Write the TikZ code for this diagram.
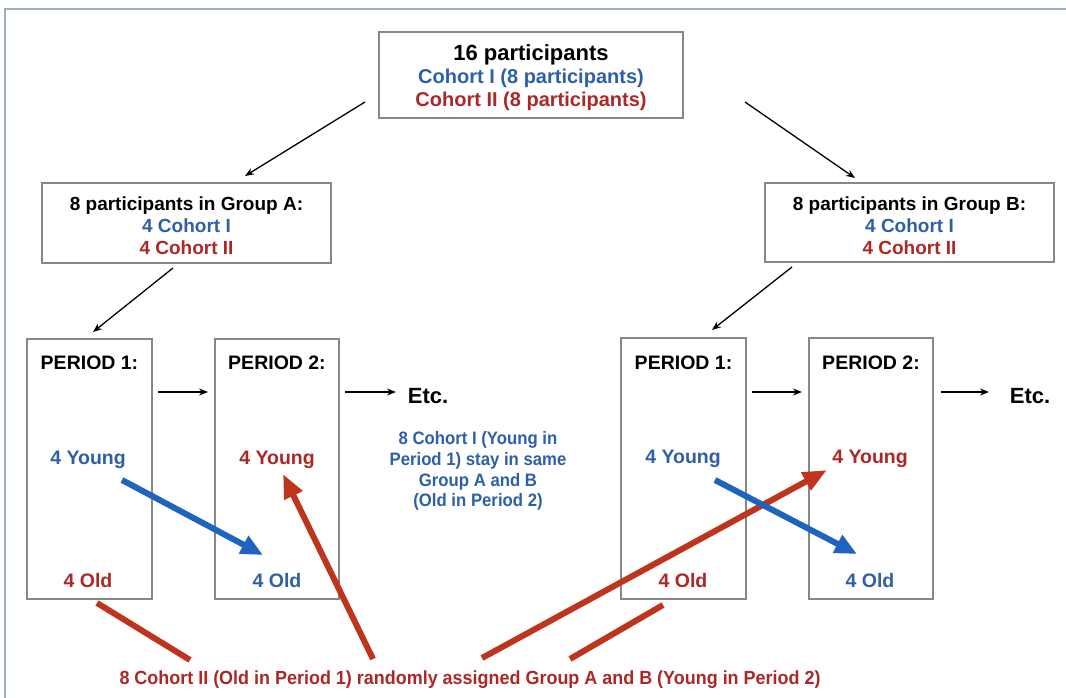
\documentclass[tikz,border=0pt]{standalone}
\usepackage{fontspec}
\usepackage{graphicx}
\setmainfont{Liberation Sans}
\usetikzlibrary{arrows.meta}

\definecolor{txtblue}{RGB}{46,96,168}
\definecolor{txtred}{RGB}{172,40,38}
\definecolor{arrblue}{RGB}{30,100,190}
\definecolor{arrred}{RGB}{190,52,28}
\definecolor{boxgrey}{RGB}{135,135,135}
\definecolor{framec}{RGB}{160,174,194}

\tikzset{
  box/.style={draw=boxgrey, line width=1.4pt, fill=white, inner sep=0pt, align=center},
  lbl/.style={inner sep=0pt, align=center, font=\fontsize{19.5}{22}\selectfont\bfseries},
  thinarrow/.style={line width=1.3pt, -{Stealth[length=9pt,width=7pt]}},
  bluearrow/.style={arrblue, line width=6pt, -{Triangle[length=22pt,width=19pt]}},
  redarrow/.style={arrred, line width=6pt, -{Triangle[length=24pt,width=19pt]}},
  redstub/.style={arrred, line width=6pt},
}

\begin{document}
\begin{tikzpicture}[x=1pt,y=-1pt]
\useasboundingbox (0,0) rectangle (1066,698);
\fill[white] (0,0) rectangle (1066,698);

% page frame
\draw[framec, line width=2.2pt] (5,698) -- (5,9) -- (1066,9);

% top box
\node[box, minimum width=304pt, minimum height=86pt, font=\fontsize{20}{23}\selectfont\bfseries] (top) at (531,75)
  {\rule{0pt}{22pt}{\fontsize{22}{23}\selectfont 16 participants}\\
   \textcolor{txtblue}{Cohort I (8 participants)}\\
   \textcolor{txtred}{Cohort II (8 participants)}};

% group boxes
\node[box, minimum width=289pt, minimum height=80pt, font=\fontsize{19}{22}\selectfont\bfseries] (grpA) at (186.5,223)
  {\rule{0pt}{20pt}8 participants in Group A:\\ \textcolor{txtblue}{4 Cohort I}\\ \textcolor{txtred}{4 Cohort II}};
\node[box, minimum width=289pt, minimum height=79pt, font=\fontsize{19}{22}\selectfont\bfseries] (grpB) at (909.5,222.5)
  {\rule{0pt}{20pt}8 participants in Group B:\\ \textcolor{txtblue}{4 Cohort I}\\ \textcolor{txtred}{4 Cohort II}};

% period boxes
\node[box, minimum width=125pt, minimum height=260pt] (pAa) at (89.5,469) {};
\node[box, minimum width=124pt, minimum height=260pt] (pAb) at (277,469) {};
\node[box, minimum width=125pt, minimum height=261pt] (pBa) at (683.5,468.5) {};
\node[box, minimum width=124pt, minimum height=261pt] (pBb) at (871,468.5) {};

% period box contents
\node[lbl] (hAa) at (89.5,363) {PERIOD 1:};
\node[lbl] (hAb) at (277,363) {PERIOD 2:};
\node[lbl] (hBa) at (683.5,363) {PERIOD 1:};
\node[lbl] (hBb) at (871,363) {PERIOD 2:};
\node[lbl, txtblue] (yAa) at (88,460) {4 Young};
\node[lbl, txtred]  (yAb) at (277,460) {4 Young};
\node[lbl, txtblue] (yBa) at (683,459) {4 Young};
\node[lbl, txtred]  (yBb) at (870,459) {4 Young};
\node[lbl, txtred]  (oAa) at (88,581) {4 Old};
\node[lbl, txtblue] (oAb) at (277,581) {4 Old};
\node[lbl, txtred]  (oBa) at (683,581) {4 Old};
\node[lbl, txtblue] (oBb) at (870,581) {4 Old};

% continuation labels
\node[lbl, font=\fontsize{22}{24}\selectfont\bfseries] (etcA) at (428,396) {Etc.};
\node[lbl, font=\fontsize{22}{24}\selectfont\bfseries] (etcB) at (1030,396) {Etc.};

% notes
\node[inner sep=0pt, align=center, txtblue, font=\fontsize{18}{20.7}\selectfont\bfseries] (noteI) at (478,471)
  {\scalebox{0.93}[1]{8 Cohort I (Young in}\\ \scalebox{0.93}[1]{Period 1) stay in same}\\
   \scalebox{0.93}[1]{Group A and B}\\ \scalebox{0.93}[1]{(Old in Period 2)}};
\node[inner sep=0pt, txtred, font=\fontsize{19}{22}\selectfont\bfseries] (noteII) at (470,680)
  {\resizebox{701pt}{\height}{8 Cohort II (Old in Period 1) randomly assigned Group A and B (Young in Period 2)}};

% arrow end points
\coordinate (s1) at (365,102); \coordinate (e1) at (245,176);
\coordinate (s2) at (745,102); \coordinate (e2) at (855,178);
\coordinate (s3) at (173,268); \coordinate (e3) at (93,332);
\coordinate (s4) at (792,267); \coordinate (e4) at (712,330);
\coordinate (s5) at (158,392); \coordinate (e5) at (208,392);
\coordinate (s6) at (345,392); \coordinate (e6) at (396,392);
\coordinate (s7) at (752,392); \coordinate (e7) at (802,392);
\coordinate (s8) at (941,392); \coordinate (e8) at (989,392);

\draw[thinarrow] (s1) -- (e1);
\draw[thinarrow] (s2) -- (e2);
\draw[thinarrow] (s3) -- (e3);
\draw[thinarrow] (s4) -- (e4);
\draw[thinarrow] (s5) -- (e5);
\draw[thinarrow] (s6) -- (e6);
\draw[thinarrow] (s7) -- (e7);
\draw[thinarrow] (s8) -- (e8);

% cohort movement arrows
\coordinate (b1s) at (122,480); \coordinate (b1e) at (263,555);
\coordinate (b2s) at (715,480); \coordinate (b2e) at (857,554);
\coordinate (r1s) at (97,603);  \coordinate (r1e) at (190,660);
\coordinate (r2s) at (373,659); \coordinate (r2e) at (283,474);
\coordinate (r3s) at (482,658); \coordinate (r3e) at (827,470);
\coordinate (r4s) at (663,605); \coordinate (r4e) at (570,659);

\draw[bluearrow] (b1s) -- (b1e);
\draw[redarrow] (r3s) -- (r3e);
\draw[bluearrow] (b2s) -- (b2e);
\draw[redstub] (r1s) -- (r1e);
\draw[redarrow] (r2s) -- (r2e);
\draw[redstub] (r4s) -- (r4e);
\end{tikzpicture}
\end{document}
